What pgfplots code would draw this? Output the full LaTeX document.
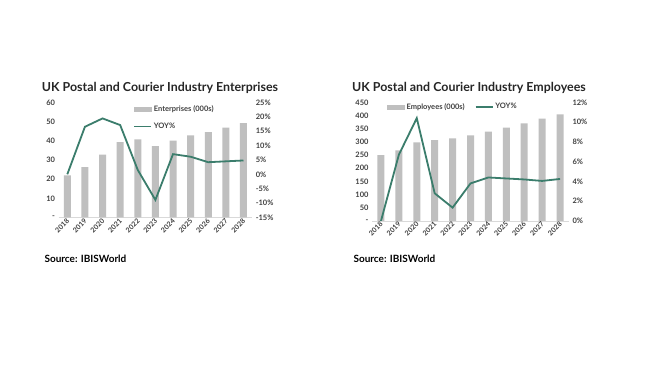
\documentclass[border=0pt]{standalone}
\usepackage{fontspec}
\setmainfont{Lato}[Extension=.ttf, UprightFont=*-Regular, BoldFont=*-Bold]
\usepackage{pgfplots}
\pgfplotsset{compat=1.18}
\definecolor{barg}{HTML}{BFBFBF}
\definecolor{yoyc}{HTML}{3B7D6C}
\definecolor{txt}{HTML}{404040}

\pgfplotstableread{
x bar yoy
0 22.0 0.0
1 26.2 16.5
2 32.7 19.4
3 39.3 17.1
4 40.7 1.5
5 37.2 -8.9
6 40.0 7.0
7 42.8 6.1
8 44.5 4.2
9 46.8 4.5
10 49.2 4.8
}\enterprises

\pgfplotstableread{
x bar yoy
0 250 0.0
1 268 6.7
2 298 10.4
3 307 2.8
4 313 1.35
5 325 3.8
6 339 4.4
7 354 4.3
8 370 4.2
9 388 4.05
10 404 4.25
}\employees

\pgfplotsset{
  base/.style={
    scale only axis, xmin=-0.5, xmax=10.5,
    major tick length=0pt,
    tick label style={font=\fontsize{7.5}{8}\selectfont\bfseries, text=txt},
  },
  leftax/.style={
    base, ybar, bar width=7pt,
    axis x line*=bottom, axis y line*=left,
    y axis line style={draw=none},
    x axis line style={draw=black!15, line width=0.6pt},
    xtick={0,...,10},
    xticklabels={2018,2019,2020,2021,2022,2023,2024,2025,2026,2027,2028},
    xticklabel style={rotate=45, anchor=east, inner sep=1pt, yshift=-2pt, font=\fontsize{7}{8}\selectfont\bfseries},
  },
  rightax/.style={
    base, axis y line*=right, axis x line=none,
    y axis line style={draw=none},
    legend style={draw=none, fill=none, font=\fontsize{7.5}{8}\selectfont\bfseries, text=txt, inner sep=0pt, cells={anchor=west}},
  },
  barleg/.style={legend image code/.code={\fill[barg] (0pt,-2.2pt) rectangle (17pt,2.2pt);}},
  lineleg/.style={legend image code/.code={\draw[yoyc, line width=1.8pt] (0pt,0pt)--(17pt,0pt);}},
}

\begin{document}
\begin{tikzpicture}[x=1pt,y=1pt]
\fill[white] (0,0) rectangle (650,366);

% ---------- Left chart ----------
\node[font=\fontsize{12.4}{14}\selectfont\bfseries, text=black!85] at (160,278) {UK Postal and Courier Industry Enterprises};
\begin{axis}[leftax, at={(58.5pt,148.5pt)}, anchor=south west, width=193.8pt, height=115.2pt,
  ymin=0, ymax=60, ytick={0,10,...,60}, yticklabels={-,10,20,30,40,50,60}]
\addplot[fill=barg, draw=none] table[x=x, y=bar] {\enterprises};
\end{axis}
\begin{axis}[rightax, at={(58.5pt,148.5pt)}, anchor=south west, width=193.8pt, height=115.2pt,
  ymin=-15, ymax=25, ytick={-15,-10,...,25},
  yticklabels={-15\%,-10\%,-5\%,0\%,5\%,10\%,15\%,20\%,25\%},
  legend style={at={(0.384,0.99)}, anchor=north west, row sep=6pt}]
\addlegendimage{barleg}
\addlegendentry{Enterprises (000s)}
\addplot[yoyc, line width=1.8pt, mark=none, lineleg] table[x=x, y=yoy] {\enterprises};
\addlegendentry{YOY\%}
\end{axis}
\node[font=\fontsize{10}{12}\selectfont\bfseries, anchor=west] at (41,107) {Source: IBISWorld};

% ---------- Right chart ----------
\node[font=\fontsize{12.4}{14}\selectfont\bfseries, text=black!85] at (469,278) {UK Postal and Courier Industry Employees};
\begin{axis}[leftax, at={(372pt,145pt)}, anchor=south west, width=197pt, height=118.7pt,
  ymin=0, ymax=450, ytick={0,50,...,450}, yticklabels={-,50,100,150,200,250,300,350,400,450}]
\addplot[fill=barg, draw=none] table[x=x, y=bar] {\employees};
\end{axis}
\begin{axis}[rightax, at={(372pt,145pt)}, anchor=south west, width=197pt, height=118.7pt,
  ymin=0, ymax=12, ytick={0,2,...,12},
  yticklabels={0\%,2\%,4\%,6\%,8\%,10\%,12\%},
  legend columns=2,
  legend style={at={(0.076,1.01)}, anchor=north west, /tikz/every even column/.append style={column sep=8pt}}]
\addlegendimage{barleg}
\addlegendentry{Employees (000s)}
\addplot[yoyc, line width=1.8pt, mark=none, lineleg] table[x=x, y=yoy] {\employees};
\addlegendentry{YOY\%}
\end{axis}
\node[font=\fontsize{10}{12}\selectfont\bfseries, anchor=west] at (350,107) {Source: IBISWorld};
\end{tikzpicture}
\end{document}
